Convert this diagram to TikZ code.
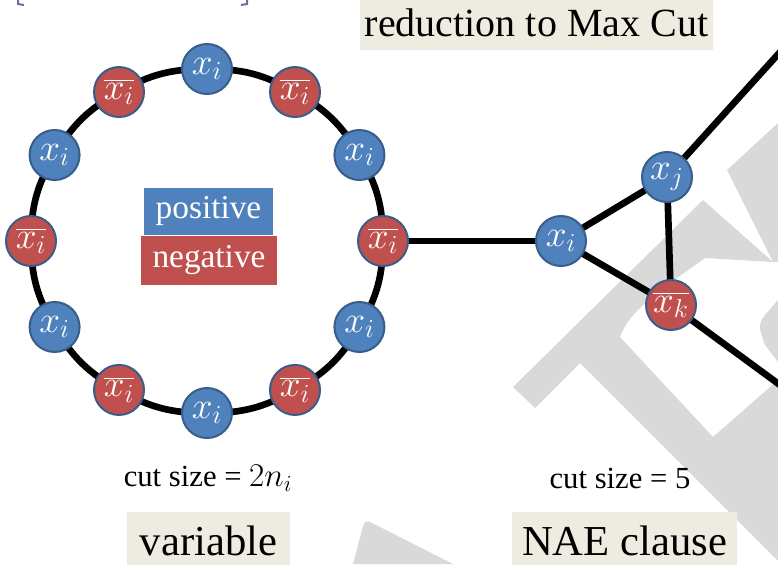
\documentclass[tikz,border=0pt]{standalone}
\usepackage{fontspec}
\setmainfont{Liberation Serif}
\usetikzlibrary{backgrounds}

\definecolor{posblue}{HTML}{4F81BD}
\definecolor{negred}{HTML}{C0504D}
\definecolor{rimblue}{HTML}{385D8A}
\definecolor{tanbox}{HTML}{EEECE1}
\definecolor{wmgray}{HTML}{D9D9D9}
\definecolor{bracepurple}{HTML}{8064A2}

% literal label inside a gadget node
\newcommand{\litlabel}[1]{\scalebox{1.35}{$#1$}}

\begin{document}
\begin{tikzpicture}[
    x=0.75pt, y=-0.75pt, % one unit = one pixel, y going down
    posnode/.style={circle, fill=posblue, draw=rimblue, line width=1.5pt,
        minimum size=37.5pt, inner sep=0pt, text=white,
        font=\fontsize{20}{20}\selectfont},
    negnode/.style={posnode, fill=negred},
    edgeline/.style={line width=5pt, black},
    tanlabel/.style={fill=tanbox, inner sep=0pt, minimum height=43.5pt,
        font=\fontsize{32}{32}\selectfont},
    cutlabel/.style={inner sep=0pt, font=\fontsize{23}{23}\selectfont},
    signbox/.style={inner sep=0pt, text=white, font=\fontsize{25}{25}\selectfont}
]
    \useasboundingbox (0,0) rectangle (778,564);
    \clip (0,0) rectangle (778,564);

    % Watermark in the back
    \begin{scope}[on background layer]
        \fill[wmgray] (513,387) -- (703,200) -- (773,262) -- (705,258)
            .. controls (660,290) and (628,312) .. (620,337)
            -- (713,437) -- (778,380) -- (778,561) -- (580,363)
            -- (535,408) -- cycle;
        \fill[wmgray] (727,170) -- (778,123) -- (778,262) -- (773,262) -- cycle;
        \fill[wmgray] (778,300) -- (765,315) .. controls (758,325) .. (765,345)
            -- (778,362) -- cycle;
        \fill[wmgray] (353,564) -- (362,530) .. controls (365,520) .. (372,523)
            -- (453,564) -- cycle;
    \end{scope}

    % Cut-off braces at the top
    \draw[bracepurple, line width=1.5pt] (18,0) -- (18,4) -- (24,5);
    \draw[bracepurple, line width=1.5pt] (247,0) -- (247,4) -- (241,5);

    % Variable gadget: ring of literals
    \foreach \k in {0,2,...,10}
        \node[posnode] (v\k) at ({207+176*sin(30*\k)},{241-172*cos(30*\k)}) {\litlabel{x_i}};
    \foreach \k in {1,3,...,11}
        \node[negnode] (v\k) at ({207+176*sin(30*\k)},{241-172*cos(30*\k)}) {\litlabel{\overline{x_i}}};

    \node[signbox, fill=posblue, minimum width=96.75pt, minimum height=35.25pt]
        (pos) at (208.5,211.5) {positive};
    \node[signbox, fill=negred, minimum width=102pt, minimum height=36.75pt]
        (neg) at (209,260.5) {negative};

    % Clause gadget: triangle
    \node[posnode] (ci) at (561,241) {\litlabel{x_i}};
    \node[posnode] (cj) at (667,177) {\litlabel{x_j}};
    \node[negnode] (ck) at (671,305) {\litlabel{\overline{x_k}}};
    \coordinate (cjout) at (800,30);
    \coordinate (ckout) at (810,407);

    \begin{scope}[on background layer]
        \foreach \k [evaluate=\k as \j using {int(mod(\k+1,12))}] in {0,...,11}
            \draw[edgeline] (v\k.center) to[bend left=15] (v\j.center);
        \draw[edgeline] (v3.center) -- (ci.center);
        \draw[edgeline] (ci.center) -- (cj.center);
        \draw[edgeline] (ci.center) -- (ck.center);
        \draw[edgeline] (cj.center) -- (ck.center);
        \draw[edgeline] (cj.center) -- (cjout);
        \draw[edgeline] (ck.center) -- (ckout);
    \end{scope}

    % Labels
    \node[tanlabel, minimum width=264.75pt, minimum height=40.5pt,
        font=\fontsize{30}{30}\selectfont]
        (title) at (536.5,23) {reduction to Max Cut};
    \node[cutlabel] (varcut) at (208,478) {cut size = $2n_i$};
    \node[cutlabel] (clausecut) at (620,478) {cut size = 5};
    \node[tanlabel, minimum width=122.25pt] (varbox) at (208.5,541) {variable};
    \node[tanlabel, minimum width=168.75pt] (clausebox) at (624.5,541) {NAE clause};

\end{tikzpicture}
\end{document}
